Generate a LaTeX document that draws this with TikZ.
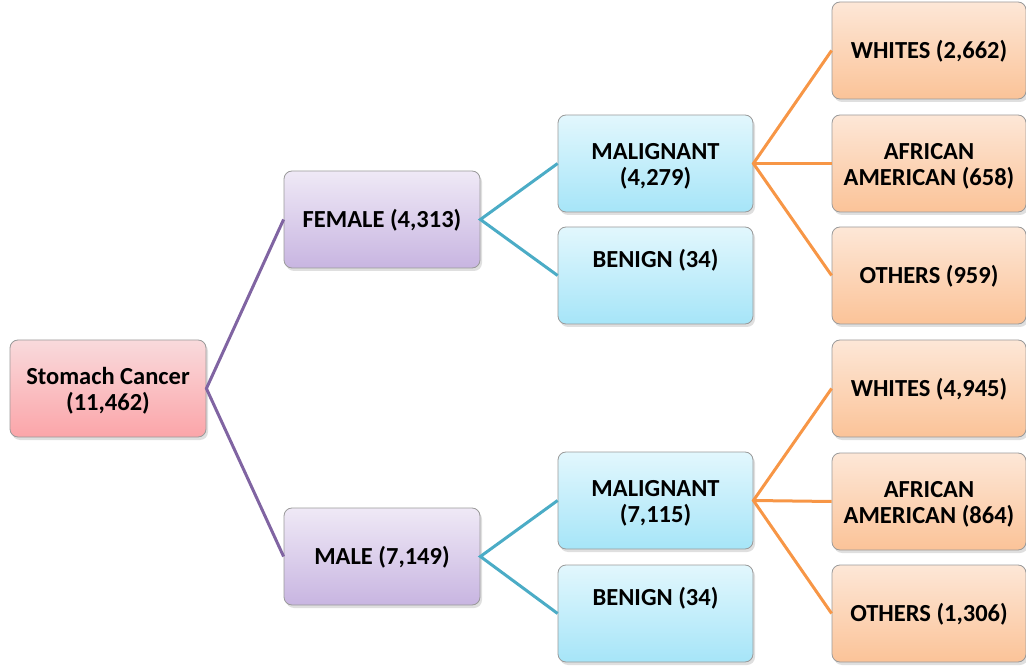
\documentclass[tikz,border=0pt]{standalone}
\usepackage{fontspec}
\setmainfont{Carlito}[BoldFont={Carlito Bold}]
\usetikzlibrary{shadows}
\definecolor{edgegray}{HTML}{9A9A9A}
\definecolor{purpleline}{HTML}{8064A2}
\definecolor{tealline}{HTML}{4BACC6}
\definecolor{orangeline}{HTML}{F79646}
\definecolor{roottop}{HTML}{F9DADC}
\definecolor{rootbot}{HTML}{FBA5A9}
\definecolor{sextop}{HTML}{EFE9F6}
\definecolor{sexbot}{HTML}{C8B5E1}
\definecolor{typetop}{HTML}{E2F7FD}
\definecolor{typebot}{HTML}{A6E5F8}
\definecolor{racetop}{HTML}{FDE7D7}
\definecolor{racebot}{HTML}{FBC398}
% invisible struts that set the text a little lower in its box
\newcommand\oneup{\rule{0pt}{20.5pt}}
\newcommand\twoup{\rule{0pt}{21pt}}
\tikzset{
  box/.style={draw=edgegray, line width=0.8pt, rounded corners=8pt,
    minimum width=196pt, minimum height=97pt, align=center, inner sep=2pt,
    font=\fontsize{24.5}{26}\selectfont\bfseries,
    drop shadow={shadow xshift=2pt, shadow yshift=-3pt, opacity=0.25}},
  rootbox/.style={box, top color=roottop, bottom color=rootbot},
  sexbox/.style={box, top color=sextop, bottom color=sexbot},
  typebox/.style={box, minimum width=195pt, top color=typetop, bottom color=typebot},
  racebox/.style={box, minimum width=194pt, top color=racetop, bottom color=racebot},
  purplelink/.style={draw=purpleline, line width=3pt},
  teallink/.style={draw=tealline, line width=3pt},
  orangelink/.style={draw=orangeline, line width=3pt},
}
\begin{document}
\begin{tikzpicture}[x=1pt, y=-1pt]
\useasboundingbox (0,0) rectangle (1026,668);
% level 0
\node[rootbox] (root) at (108,388.5) {\twoup Stomach Cancer\\(11,462)};
% level 1
\node[sexbox] (female) at (382,219.5) {\oneup FEMALE (4,313)};
\node[sexbox] (male) at (382,556.5) {\oneup MALE (7,149)};
% level 2
\node[typebox] (fmal) at (655.5,163.5) {\twoup MALIGNANT\\(4,279)};
\node[typebox] (fben) at (655.5,275.5) {BENIGN (34)\\\strut};
\node[typebox] (mmal) at (655.5,500.5) {\twoup MALIGNANT\\(7,115)};
\node[typebox] (mben) at (655.5,613.5) {BENIGN (34)\\\strut};
% level 3
\node[racebox] (fwhite) at (929,50.5) {\oneup WHITES (2,662)};
\node[racebox] (fafro) at (929,163.5) {\twoup AFRICAN\\AMERICAN (658)};
\node[racebox] (fother) at (929,275.5) {\oneup OTHERS (959)};
\node[racebox] (mwhite) at (929,388.5) {\oneup WHITES (4,945)};
\node[racebox] (mafro) at (929,501.5) {\twoup AFRICAN\\AMERICAN (864)};
\node[racebox] (mother) at (929,613.5) {\oneup OTHERS (1,306)};
% connectors
\draw[purplelink] (female.west) -- (root.east) -- (male.west);
\draw[teallink] (fmal.west) -- (female.east) -- (fben.west);
\draw[teallink] (mmal.west) -- (male.east) -- (mben.west);
\draw[orangelink] (fwhite.west) -- (fmal.east) -- (fother.west);
\draw[orangelink] (fmal.east) -- (fafro.west);
\draw[orangelink] (mwhite.west) -- (mmal.east) -- (mother.west);
\draw[orangelink] (mmal.east) -- (mafro.west);
\end{tikzpicture}
\end{document}
